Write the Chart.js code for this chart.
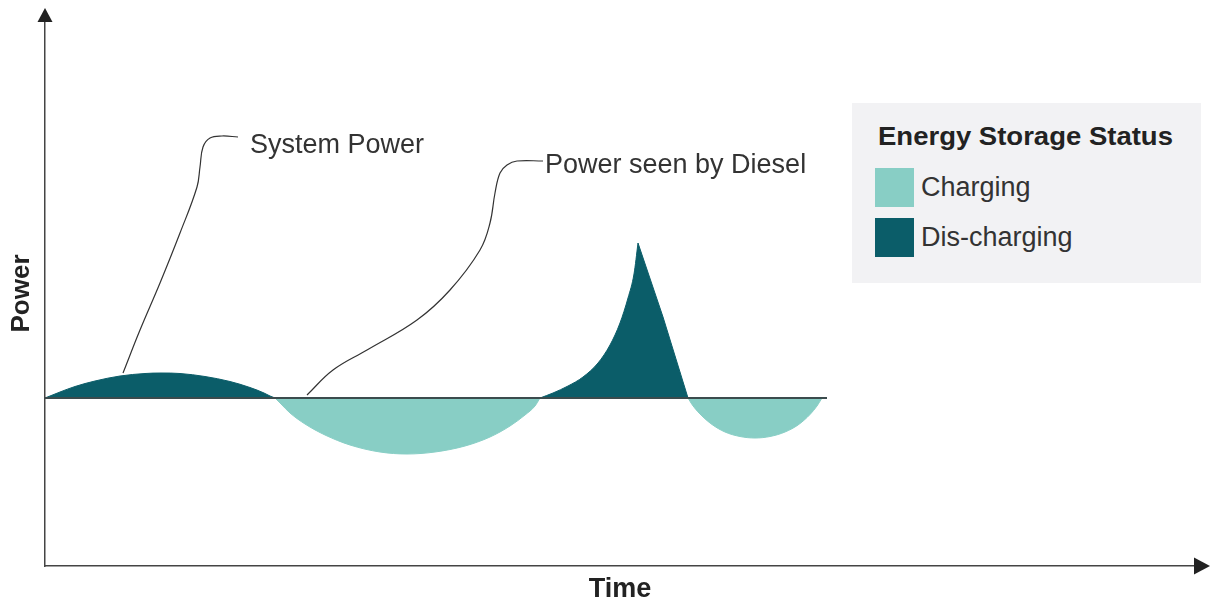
<!DOCTYPE html>
<html>
<head>
<meta charset="utf-8">
<script src="https://cdn.jsdelivr.net/npm/chart.js@4/dist/chart.umd.min.js"></script>
<style>
  body { margin: 0; background: #fff; }
  #wrap { position: relative; width: 1210px; height: 600px; font-family: Arial, "Liberation Sans", Helvetica, sans-serif; }
  #legend { position: absolute; left: 852px; top: 103px; width: 349px; height: 180px; background: #f2f2f4; }
  #legend .title { position: absolute; left: 26px; top: 19px; font-weight: bold; font-size: 25px; color: #222;
    transform: scaleX(1.1); transform-origin: left center; white-space: nowrap; }
  #legend .item { position: absolute; left: 23px; height: 39px; font-size: 27px; color: #333; white-space: nowrap; }
  #legend .sw { display: inline-block; width: 39px; height: 39px; vertical-align: middle; }
  #legend .lab { display: inline-block; vertical-align: middle; margin-left: 7px; line-height: 39px; }
</style>
</head>
<body>
<div id="wrap">
  <canvas id="powerChart" width="1210" height="600"></canvas>
  <div id="legend">
    <div class="title">Energy Storage Status</div>
    <div class="item" style="top:65px"><span class="sw" style="background:#88cec5"></span><span class="lab">Charging</span></div>
    <div class="item" style="top:115px"><span class="sw" style="background:#0b5d69"></span><span class="lab">Dis-charging</span></div>
  </div>
</div>
<script>
// values (time and power in arbitrary units, 0 = baseline)
const hump1Time  = [0, 0.5, 1.5, 3.0, 5.0, 7.5, 10.0, 11.6, 13.5, 16.0, 18.5, 20.5, 21.9, 22.5, 23.0];
const hump1Power = [0, 0.2, 0.6, 1.15, 1.7, 2.2, 2.45, 2.5, 2.45, 2.15, 1.65, 1.05, 0.5, 0.2, 0];

const dip1Time  = [23.0, 23.6, 24.5, 26.0, 28.0, 30.5, 33.5, 36.2, 39.0, 42.0, 44.5, 46.5, 48.0, 49.0, 49.5];
const dip1Power = [0, -0.6, -1.5, -2.6, -3.7, -4.7, -5.4, -5.6, -5.4, -4.8, -3.9, -2.8, -1.7, -0.8, 0];

const riseTime  = [49.5, 50.8, 52.3, 53.8, 55.3, 56.5, 57.5, 58.3, 58.9, 59.3];
const risePower = [0, 0.5, 1.2, 2.1, 3.5, 5.3, 7.5, 10.0, 12.4, 15.5];

const fallTime  = [59.3, 61.8, 64.3];
const fallPower = [15.5, 8.1, 0];

const dip2Time  = [64.3, 64.7, 65.5, 66.7, 68.0, 69.5, 71.0, 72.5, 74.0, 75.3, 76.5, 77.2, 77.7];
const dip2Power = [0, -0.65, -1.6, -2.65, -3.4, -3.85, -4.0, -3.85, -3.4, -2.7, -1.65, -0.8, 0];

const baseTime  = [0, 78.2];
const basePower = [0, 0];

// leader lines for the two call-outs
const sysLeadTime  = [7.8, 9.5, 11.5, 13.5, 15.2, 15.5, 15.8, 16.5, 17.7, 19.3];
const sysLeadPower = [2.5, 6.8, 11.5, 16.5, 21.1, 23.1, 25.1, 26.0, 26.2, 26.1];
const dslLeadTime  = [26.2, 28.8, 32.2, 37.2, 40.5, 43.5, 44.5, 45.0, 45.5, 46.2, 47.2, 49.8];
const dslLeadPower = [0.3, 2.8, 4.8, 7.8, 10.8, 14.8, 17.5, 20.5, 22.5, 23.3, 23.7, 23.7];

const noteText  = ['System Power', 'Power seen by Diesel'];
const noteTime  = [20.5, 50.0];
const notePower = [24.5, 22.5];

const CHARGING = '#88cec5';
const DISCHARGING = '#0b5d69';

function pts(xs, ys) {
  return xs.map((x, i) => ({ x: x, y: ys[i] }));
}

function area(xs, ys, color, straight) {
  return {
    data: pts(xs, ys),
    fill: 'origin',
    backgroundColor: color,
    borderColor: color,
    borderWidth: 1,
    pointRadius: 0,
    cubicInterpolationMode: straight ? 'default' : 'monotone',
    tension: straight ? 0 : 0.4,
    order: 2
  };
}

function leader(xs, ys) {
  return {
    data: pts(xs, ys),
    fill: false,
    borderColor: '#333',
    borderWidth: 1.2,
    pointRadius: 0,
    tension: 0.4,
    order: 0
  };
}

const arrows = {
  id: 'arrows',
  afterDraw(chart) {
    const { ctx, chartArea: a } = chart;
    ctx.save();
    ctx.fillStyle = '#222';
    ctx.beginPath();
    ctx.moveTo(a.left, a.top - 13);
    ctx.lineTo(a.left - 7.5, a.top + 1);
    ctx.lineTo(a.left + 7.5, a.top + 1);
    ctx.closePath();
    ctx.fill();
    ctx.beginPath();
    ctx.moveTo(a.right + 15, a.bottom);
    ctx.lineTo(a.right - 1, a.bottom - 8.5);
    ctx.lineTo(a.right - 1, a.bottom + 8.5);
    ctx.closePath();
    ctx.fill();
    ctx.restore();
  }
};

const notes = {
  id: 'notes',
  afterDatasetsDraw(chart) {
    const { ctx, scales } = chart;
    ctx.save();
    ctx.font = '27px Arial, "Liberation Sans", Helvetica, sans-serif';
    ctx.fillStyle = '#333';
    ctx.textBaseline = 'alphabetic';
    noteText.forEach((t, i) => {
      ctx.fillText(t, scales.x.getPixelForValue(noteTime[i]), scales.y.getPixelForValue(notePower[i]));
    });
    ctx.restore();
  }
};

Chart.defaults.font.family = 'Arial, "Liberation Sans", Helvetica, sans-serif';

new Chart(document.getElementById('powerChart'), {
  type: 'line',
  data: {
    datasets: [
      area(hump1Time, hump1Power, DISCHARGING),
      area(dip1Time, dip1Power, CHARGING),
      area(riseTime, risePower, DISCHARGING),
      area(fallTime, fallPower, DISCHARGING, true),
      area(dip2Time, dip2Power, CHARGING),
      {
        data: pts(baseTime, basePower),
        fill: false,
        borderColor: '#3b4b4d',
        borderWidth: 2.2,
        pointRadius: 0,
        tension: 0,
        order: 1
      },
      leader(sysLeadTime, sysLeadPower),
      leader(dslLeadTime, dslLeadPower)
    ]
  },
  options: {
    responsive: false,
    animation: false,
    events: [],
    layout: { padding: { top: 21, right: 15, left: 0, bottom: 0 } },
    plugins: {
      legend: { display: false },
      tooltip: { enabled: false }
    },
    scales: {
      x: {
        type: 'linear',
        min: 0,
        max: 115,
        grid: { display: false },
        border: { display: true, color: '#444', width: 1.5 },
        ticks: { display: false },
        title: {
          display: true,
          text: 'Time',
          color: '#222',
          font: { size: 27, weight: 'bold', lineHeight: 0.8 },
          padding: 0
        },
        afterFit(s) { s.height = 34; }
      },
      y: {
        type: 'linear',
        min: -16.8,
        max: 37.7,
        grid: { display: false },
        border: { display: true, color: '#444', width: 1.5 },
        ticks: { display: false },
        title: {
          display: true,
          text: 'Power',
          color: '#222',
          font: { size: 26, weight: 'bold', lineHeight: 1.2 },
          padding: { top: 6, bottom: 0 }
        },
        afterFit(s) { s.width = 45; }
      }
    }
  },
  plugins: [arrows, notes]
});
</script>
</body>
</html>
